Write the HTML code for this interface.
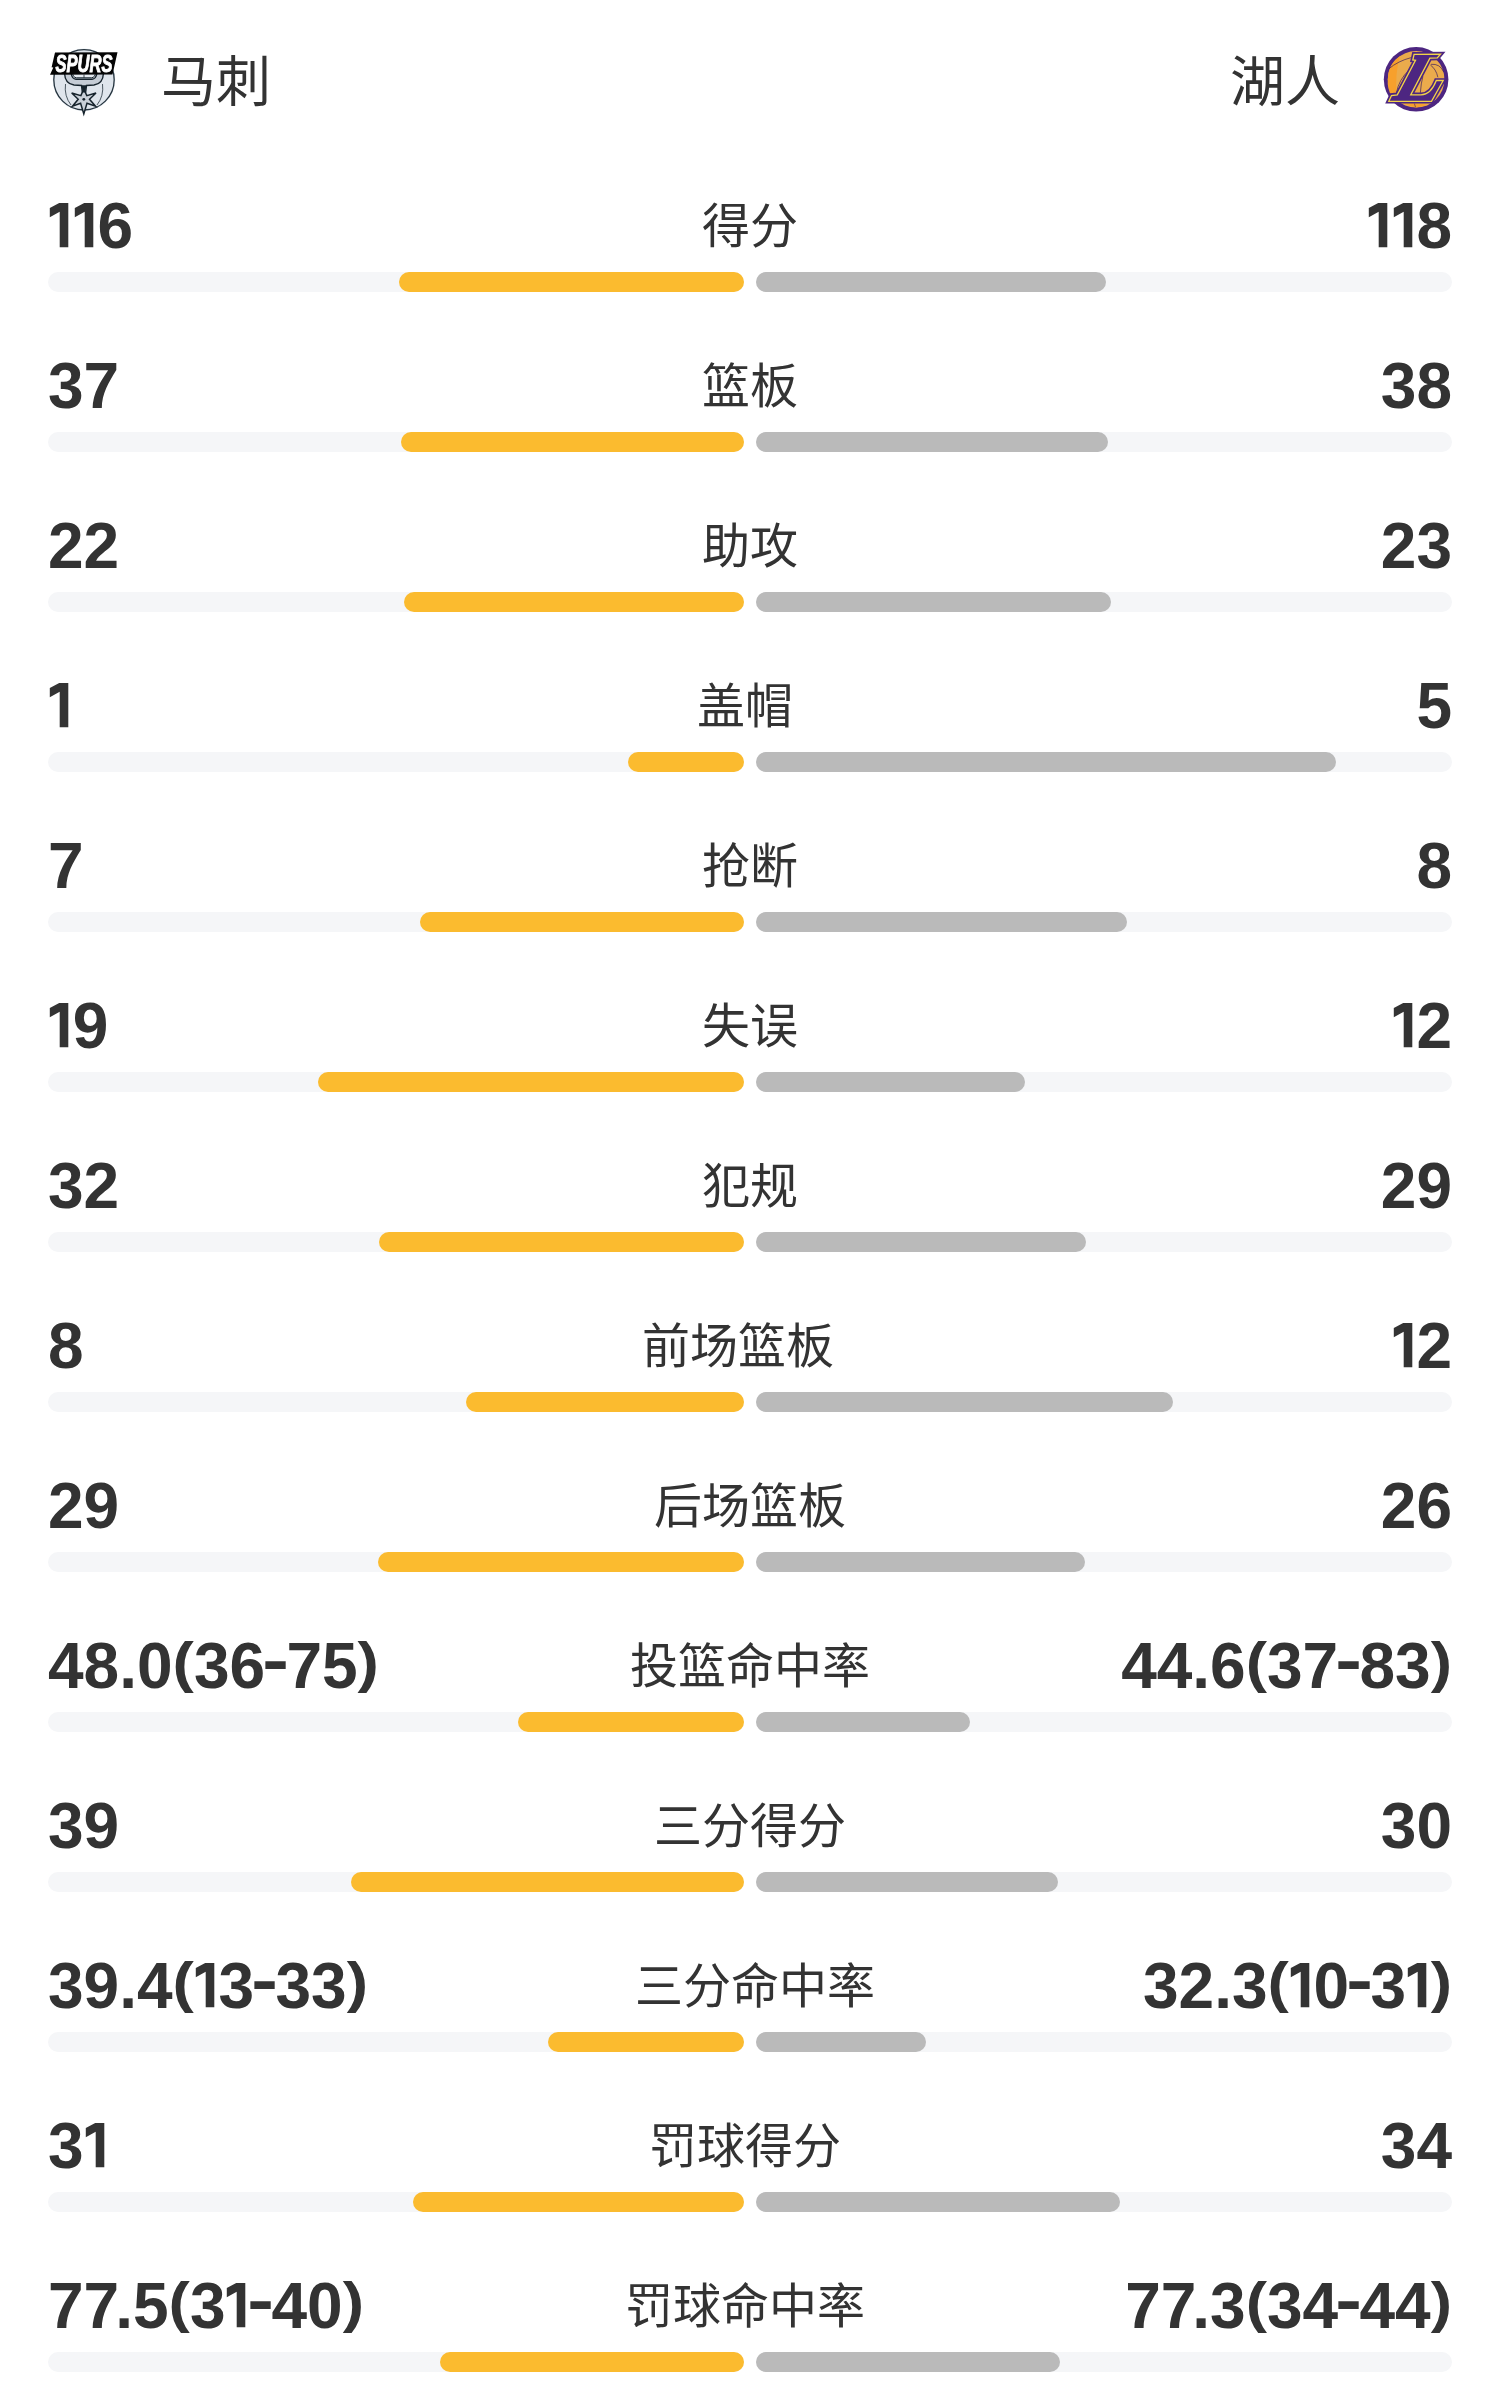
<!DOCTYPE html>
<html lang="zh-CN"><head><meta charset="utf-8"><style>
*{margin:0;padding:0;box-sizing:border-box}
html,body{width:1500px;height:2400px;background:#fff;overflow:hidden}
body{font-family:"Liberation Sans",sans-serif;color:#333;position:relative}
.hdr,.rows{will-change:transform}
.hdr{position:absolute;left:0;top:0;width:1500px;height:160px}
.logo{position:absolute}
.tn{position:absolute;top:45.5px;font-size:55px;line-height:72px;color:#333;font-weight:400}
.rows{position:absolute;left:0;top:180px;width:1500px}
.row{position:absolute;left:0;width:1500px;height:160px}
.line{position:absolute;left:48px;width:1404px;top:0;height:80px;display:flex;justify-content:space-between;align-items:center}
.n{font-weight:700;font-size:64px;line-height:80px;color:#333;white-space:nowrap;position:relative;top:6px}
.n i{font-style:normal}
.k7{letter-spacing:-4px}
.p{display:inline-block;line-height:64px;transform:scaleY(.855);transform-origin:50% 7.8px}
.h{display:inline-block;position:relative;top:-6px;transform:scaleX(1.25)}
.one{display:inline-block;width:24.7px;height:45px;vertical-align:0.4px}
.one svg{display:block;fill:#333}
.lb{font-size:48px;line-height:80px;color:#333;white-space:nowrap;position:relative;top:7px}
.tr{position:absolute;top:92px;height:20px;width:696px;background:#f5f6f8;border-radius:10px}
.tr.l{left:48px}
.tr.r{left:756px}
.bar{position:absolute;top:0;height:20px;border-radius:10px}
.l .bar{right:0}
.r .bar{left:0}
.y{background:#fbbb2f}
.g{background:#bababa}
</style></head>
<body>
<div class="hdr">
  <svg class="logo" style="left:44px;top:40px" width="80" height="80" viewBox="0 0 80 80">
<circle cx="40" cy="39.8" r="31.3" fill="#e8eef5"/>
<circle cx="40" cy="39.8" r="30.2" fill="#dfe5ec" stroke="#26343e" stroke-width="1.3"/>
<path d="M21.5 44 Q20 56 27 65" fill="none" stroke="#26343e" stroke-width="0.8"/>
<path d="M58.5 44 Q60 56 53 65" fill="none" stroke="#26343e" stroke-width="0.8"/>
<path d="M20.5 33 Q21 44 30 45 L37.5 45.5 L38.3 52 L41.7 52 L42.5 45.5 L50 45 Q59 44 59.5 33 L53 33 Q52 39 48 39.3 L32 39.3 Q28 39 27 33 Z" fill="#c5ccd5" stroke="#16232c" stroke-width="1.4"/>
<path d="M28.5 33 Q29 37.5 32.5 37.8 L47.5 37.8 Q51 37.5 51.5 33 Z" fill="#e6ebf1" stroke="#16232c" stroke-width="1"/>
<path d="M39.8 49 L42.8 55.6 L52 53 L45.5 59.3 L51.5 66.2 L43 63.3 L39.8 74 L36.6 63.3 L28.5 66.2 L34.2 59.3 L27.7 53 L36.9 55.6 Z" fill="#c9d0d8" stroke="#16232c" stroke-width="1.5" stroke-linejoin="miter"/>
<circle cx="39.8" cy="59.3" r="1.4" fill="#16232c"/>
<path d="M37.6 45.3 L42.4 45.3 L41.4 52.5 L38.6 52.5 Z" fill="#16232c"/>
<path d="M40 34.6 V37.8" stroke="#16232c" stroke-width="0.8"/>
<path d="M11 12.6 L73.5 12.3 L68.5 34.6 L6 34.8 L9.3 27.5 L7.6 27.3 Z" fill="#050505"/>
<text x="40" y="32" text-anchor="middle" font-family="Liberation Sans" font-weight="700" font-style="italic" font-size="23" fill="#fff" stroke="#fff" stroke-width="0.9" textLength="57" lengthAdjust="spacingAndGlyphs" transform="translate(0 -2.5) scale(1 1.08)">SPURS</text>
</svg>
  <div class="tn" style="left:161px">马刺</div>
  <div class="tn" style="right:160px">湖人</div>
  <svg class="logo" style="left:1376px;top:40px" width="80" height="80" viewBox="0 0 80 80">
<circle cx="40.1" cy="39.3" r="32.3" fill="#4d2681"/>
<circle cx="40.1" cy="39.3" r="28.3" fill="#ebab4c"/>
<path d="M11.8 39.3 A28.3 28.3 0 0 1 24 16 Q19 32 20.5 56 L16 57 A28.3 28.3 0 0 1 11.8 39.3Z" fill="#f7a02c"/>
<path d="M27 63 Q33 66 40 67.5 L52 65 Q45 63.5 40 63.5Z" fill="#f7a02c"/>
<path d="M12.8 28.8 Q22 21 35.2 17.6" fill="none" stroke="#3b1d5e" stroke-width="0.7"/>
<path d="M20.3 53.3 Q23 39 33 30.4" fill="none" stroke="#3b1d5e" stroke-width="0.7"/>
<path d="M44.3 53.3 Q45 43 46.9 36.3" fill="none" stroke="#3b1d5e" stroke-width="0.7"/>
<path d="M54.4 25 Q60 29 61.9 37.3" fill="none" stroke="#3b1d5e" stroke-width="0.7"/>
<path d="M55 24.3 Q64 23.5 67.7 32" fill="none" stroke="#3b1d5e" stroke-width="0.7"/>
<path d="M38.4 63.5 L39.5 67.2" fill="none" stroke="#3b1d5e" stroke-width="0.6"/>
<g stroke-linejoin="miter" stroke-miterlimit="8">
<path d="M38.1 14.4 L64.5 14.1 L61.3 17.9 L53.9 18.1 L34.7 54.9 L45 54.9 Q55 54.5 60.3 40.5 L67.2 40.5 L55.5 61.3 L12.8 61.3 L15.5 55.5 L21.3 54.9 L39.5 20.3 L36.8 20 Z" fill="#4d2681" stroke="#4d2681" stroke-width="4.6"/>
<path d="M38.1 14.4 L64.5 14.1 L61.3 17.9 L53.9 18.1 L34.7 54.9 L45 54.9 Q55 54.5 60.3 40.5 L67.2 40.5 L55.5 61.3 L12.8 61.3 L15.5 55.5 L21.3 54.9 L39.5 20.3 L36.8 20 Z" fill="#4d2681" stroke="#f2d447" stroke-width="1.3"/>
</g>
</svg>
</div>
<div class="rows">
<div class="row" style="top:0px">
  <div class="line"><span class="n"><i class="one"><svg width="25" height="45" viewBox="0 0 25 45"><path d="M1.8 5.1L11.2 0H20.3V44.2H11.7V8.8L1.8 14.2Z"/></svg></i><i class="one"><svg width="25" height="45" viewBox="0 0 25 45"><path d="M1.8 5.1L11.2 0H20.3V44.2H11.7V8.8L1.8 14.2Z"/></svg></i>6</span><span class="lb">得分</span><span class="n"><i class="one"><svg width="25" height="45" viewBox="0 0 25 45"><path d="M1.8 5.1L11.2 0H20.3V44.2H11.7V8.8L1.8 14.2Z"/></svg></i><i class="one"><svg width="25" height="45" viewBox="0 0 25 45"><path d="M1.8 5.1L11.2 0H20.3V44.2H11.7V8.8L1.8 14.2Z"/></svg></i>8</span></div>
  <div class="tr l"><div class="bar y" style="width:345px"></div></div>
  <div class="tr r"><div class="bar g" style="width:350px"></div></div>
</div>
<div class="row" style="top:160px">
  <div class="line"><span class="n">37</span><span class="lb">篮板</span><span class="n">38</span></div>
  <div class="tr l"><div class="bar y" style="width:343px"></div></div>
  <div class="tr r"><div class="bar g" style="width:352px"></div></div>
</div>
<div class="row" style="top:320px">
  <div class="line"><span class="n">22</span><span class="lb">助攻</span><span class="n">23</span></div>
  <div class="tr l"><div class="bar y" style="width:340px"></div></div>
  <div class="tr r"><div class="bar g" style="width:355px"></div></div>
</div>
<div class="row" style="top:480px">
  <div class="line"><span class="n"><i class="one"><svg width="25" height="45" viewBox="0 0 25 45"><path d="M1.8 5.1L11.2 0H20.3V44.2H11.7V8.8L1.8 14.2Z"/></svg></i></span><span class="lb">盖帽</span><span class="n">5</span></div>
  <div class="tr l"><div class="bar y" style="width:116px"></div></div>
  <div class="tr r"><div class="bar g" style="width:580px"></div></div>
</div>
<div class="row" style="top:640px">
  <div class="line"><span class="n">7</span><span class="lb">抢断</span><span class="n">8</span></div>
  <div class="tr l"><div class="bar y" style="width:324px"></div></div>
  <div class="tr r"><div class="bar g" style="width:371px"></div></div>
</div>
<div class="row" style="top:800px">
  <div class="line"><span class="n"><i class="one"><svg width="25" height="45" viewBox="0 0 25 45"><path d="M1.8 5.1L11.2 0H20.3V44.2H11.7V8.8L1.8 14.2Z"/></svg></i>9</span><span class="lb">失误</span><span class="n"><i class="one"><svg width="25" height="45" viewBox="0 0 25 45"><path d="M1.8 5.1L11.2 0H20.3V44.2H11.7V8.8L1.8 14.2Z"/></svg></i>2</span></div>
  <div class="tr l"><div class="bar y" style="width:426px"></div></div>
  <div class="tr r"><div class="bar g" style="width:269px"></div></div>
</div>
<div class="row" style="top:960px">
  <div class="line"><span class="n">32</span><span class="lb">犯规</span><span class="n">29</span></div>
  <div class="tr l"><div class="bar y" style="width:365px"></div></div>
  <div class="tr r"><div class="bar g" style="width:330px"></div></div>
</div>
<div class="row" style="top:1120px">
  <div class="line"><span class="n">8</span><span class="lb">前场篮板</span><span class="n"><i class="one"><svg width="25" height="45" viewBox="0 0 25 45"><path d="M1.8 5.1L11.2 0H20.3V44.2H11.7V8.8L1.8 14.2Z"/></svg></i>2</span></div>
  <div class="tr l"><div class="bar y" style="width:278px"></div></div>
  <div class="tr r"><div class="bar g" style="width:417px"></div></div>
</div>
<div class="row" style="top:1280px">
  <div class="line"><span class="n">29</span><span class="lb">后场篮板</span><span class="n">26</span></div>
  <div class="tr l"><div class="bar y" style="width:366px"></div></div>
  <div class="tr r"><div class="bar g" style="width:329px"></div></div>
</div>
<div class="row" style="top:1440px">
  <div class="line"><span class="n">48.0<i class="p">(</i>36<i class="h">-</i>75<i class="p">)</i></span><span class="lb">投篮命中率</span><span class="n">44.6<i class="p">(</i>37<i class="h">-</i>83<i class="p">)</i></span></div>
  <div class="tr l"><div class="bar y" style="width:226px"></div></div>
  <div class="tr r"><div class="bar g" style="width:214px"></div></div>
</div>
<div class="row" style="top:1600px">
  <div class="line"><span class="n">39</span><span class="lb">三分得分</span><span class="n">30</span></div>
  <div class="tr l"><div class="bar y" style="width:393px"></div></div>
  <div class="tr r"><div class="bar g" style="width:302px"></div></div>
</div>
<div class="row" style="top:1760px">
  <div class="line"><span class="n">39.4<i class="p">(</i><i class="one"><svg width="25" height="45" viewBox="0 0 25 45"><path d="M1.8 5.1L11.2 0H20.3V44.2H11.7V8.8L1.8 14.2Z"/></svg></i>3<i class="h">-</i>33<i class="p">)</i></span><span class="lb">三分命中率</span><span class="n">32.3<i class="p">(</i><i class="one"><svg width="25" height="45" viewBox="0 0 25 45"><path d="M1.8 5.1L11.2 0H20.3V44.2H11.7V8.8L1.8 14.2Z"/></svg></i>0<i class="h">-</i>3<i class="one"><svg width="25" height="45" viewBox="0 0 25 45"><path d="M1.8 5.1L11.2 0H20.3V44.2H11.7V8.8L1.8 14.2Z"/></svg></i><i class="p">)</i></span></div>
  <div class="tr l"><div class="bar y" style="width:196px"></div></div>
  <div class="tr r"><div class="bar g" style="width:170px"></div></div>
</div>
<div class="row" style="top:1920px">
  <div class="line"><span class="n">3<i class="one"><svg width="25" height="45" viewBox="0 0 25 45"><path d="M1.8 5.1L11.2 0H20.3V44.2H11.7V8.8L1.8 14.2Z"/></svg></i></span><span class="lb">罚球得分</span><span class="n">34</span></div>
  <div class="tr l"><div class="bar y" style="width:331px"></div></div>
  <div class="tr r"><div class="bar g" style="width:364px"></div></div>
</div>
<div class="row" style="top:2080px">
  <div class="line"><span class="n">7<i class="k7">7</i>.5<i class="p">(</i>3<i class="one"><svg width="25" height="45" viewBox="0 0 25 45"><path d="M1.8 5.1L11.2 0H20.3V44.2H11.7V8.8L1.8 14.2Z"/></svg></i><i class="h">-</i>40<i class="p">)</i></span><span class="lb">罚球命中率</span><span class="n">7<i class="k7">7</i>.3<i class="p">(</i>34<i class="h">-</i>44<i class="p">)</i></span></div>
  <div class="tr l"><div class="bar y" style="width:304px"></div></div>
  <div class="tr r"><div class="bar g" style="width:304px"></div></div>
</div>
</div>
</body></html>
